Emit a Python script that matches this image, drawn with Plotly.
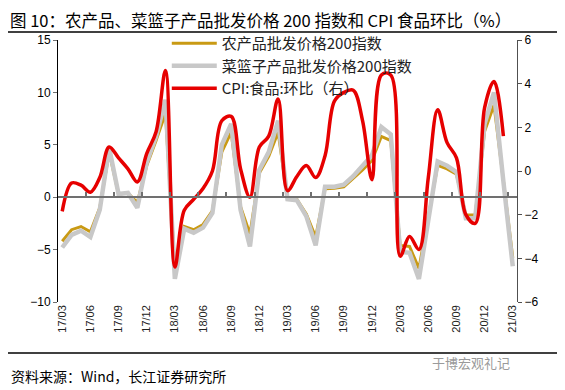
import plotly.graph_objects as go
import pandas as pd

# Monthly categories 2017/03 .. 2021/03
months = [d.strftime("%y/%m") for d in pd.date_range("2017-03-01", "2021-03-01", freq="MS")]
tick_labels = months[::3]
tick_marks = [i + 2.5 for i in range(0, 48, 3)]

# 农产品批发价格200指数 (left axis)
agri = [-4.2, -3.1, -2.8, -3.3, -1.0, 4.3, 0.3, 0.4, -0.5, 3.0, 5.4, 8.0,
        -6.8, -2.8, -3.1, -2.6, -1.3, 4.3, 6.2, -0.9, -3.5, 2.3, 3.9, 6.2,
        -0.1, -0.2, -1.6, -3.8, 0.8, 0.85, 1.0, 1.8, 2.6, 3.5, 5.8, 5.4,
        -4.6, -4.7, -6.8, -1.9, 3.05, 2.7, 2.2, -1.7, -1.7, 6.3, 8.8, 1.6, -5.8]

# 菜篮子产品批发价格200指数 (left axis)
basket = [-4.8, -3.6, -3.2, -3.8, -1.2, 4.7, 0.3, 0.4, -1.0, 3.3, 5.8, 9.3,
          -7.8, -3.0, -3.4, -2.9, -1.5, 5.0, 7.0, -1.2, -4.7, 2.6, 4.3, 7.3,
          -0.2, -0.3, -1.8, -4.6, 1.0, 1.0, 1.2, 2.0, 3.0, 4.0, 6.7, 6.0,
          -5.2, -5.3, -7.8, -2.2, 3.4, 3.0, 2.4, -2.0, -2.0, 7.0, 10.0, 1.5, -6.6]

# CPI:食品:环比 (right axis), 2017/03 .. 2021/02
cpi_food = [-1.85, -0.55, -0.65, -0.97, -0.3, 1.1, 0.6, 0.1, -0.5, 0.8, 1.8, 4.6,
            -4.4, -1.8, -1.3, -0.8, 0.0, 2.3, 2.5, 0.1, -1.2, 1.1, 1.6, 3.3,
            -0.9, -0.25, 0.25, -0.3, 0.7, 3.2, 3.6, 3.7, 2.3, -0.4, 4.4, 4.4,
            -3.9, -3.0, -3.6, -0.3, 2.8, 1.3, 0.6, -2.0, -2.4, 2.9, 4.1, 1.6]

names = ["农产品批发价格200指数", "菜篮子产品批发价格200指数", "CPI:食品:环比（右）"]
colors = ["#C99A14", "#C8C8C8", "#E60000"]

FONT = "Liberation Sans, Arial, Noto Sans CJK SC, sans-serif"
CJK = "Noto Sans CJK SC, Liberation Sans, sans-serif"

fig = go.Figure()
fig.add_trace(go.Scatter(x=months, y=agri, name=names[0], mode="lines",
                         line=dict(color=colors[0], width=3)))
fig.add_trace(go.Scatter(x=months, y=basket, name=names[1], mode="lines",
                         line=dict(color=colors[1], width=4.5)))
fig.add_trace(go.Scatter(x=months[:len(cpi_food)], y=cpi_food, name=names[2], mode="lines",
                         yaxis="y2", line=dict(color=colors[2], width=3.5, shape="spline", smoothing=1.0)))
# carrier for the zero-line axis with tick marks
fig.add_trace(go.Scatter(x=months, y=agri, xaxis="x2", mode="lines", showlegend=False,
                         hoverinfo="skip", line=dict(width=0), opacity=0))

xr = [-0.45, 48.45]
fig.update_layout(
    width=557, height=382,
    margin=dict(l=50, r=48, t=32, b=88),
    paper_bgcolor="white", plot_bgcolor="white",
    font=dict(family=FONT, color="#000000", size=12),
    showlegend=True,
    legend=dict(x=0.237, y=1.05, xanchor="left", yanchor="top", itemwidth=45,
                bgcolor="rgba(0,0,0,0)", font=dict(family=CJK, size=15, color="#222222"),
                tracegroupgap=0),
    xaxis=dict(type="category", range=xr, tickmode="array", tickvals=tick_labels,
               ticktext=tick_labels, tickangle=-90, ticks="", showline=False,
               showgrid=False, zeroline=False, tickfont=dict(size=11, color="#222222")),
    xaxis2=dict(type="category", overlaying="x", anchor="free", position=0.4, range=xr,
                tickmode="array", tickvals=tick_marks, ticks="inside", ticklen=4,
                tickcolor="#707070", tickwidth=1.5, showticklabels=False,
                showline=True, linecolor="#707070", linewidth=1.5, showgrid=False,
                zeroline=False),
    yaxis=dict(range=[-10, 15], dtick=5, showgrid=False, zeroline=False,
               showline=True, linecolor="#000000", linewidth=1, ticks="outside",
               ticklen=4, tickcolor="#707070", tickfont=dict(size=12)),
    yaxis2=dict(range=[-6, 6], dtick=2, overlaying="y", side="right", showgrid=False,
                zeroline=False, showline=True, linecolor="#505050", linewidth=1,
                ticks="outside", ticklen=4, tickcolor="#505050", tickfont=dict(size=12)),
    shapes=[
        dict(type="line", xref="paper", yref="paper", x0=-0.111, x1=1.098,
             y0=1.0305, y1=1.0305, line=dict(color="#000000", width=1.5)),
        dict(type="line", xref="paper", yref="paper", x0=-0.111, x1=1.098,
             y0=-0.1947, y1=-0.1947, line=dict(color="#000000", width=1.5)),
    ],
    annotations=[
        dict(text="图 10：农产品、菜篮子产品批发价格 200 指数和 CPI 食品环比（%）",
             xref="paper", yref="paper", x=-0.1085, y=1.0763,
             xanchor="left", yanchor="middle", showarrow=False,
             font=dict(family=CJK, size=16.5, color="#000000")),
        dict(text="资料来源：Wind，长江证券研究所", xref="paper", yref="paper",
             x=-0.107, y=-0.282, xanchor="left", yanchor="middle", showarrow=False,
             font=dict(family=CJK, size=14, color="#000000")),
        dict(text="于博宏观礼记", xref="paper", yref="paper",
             x=0.81, y=-0.232, xanchor="left", yanchor="middle", showarrow=False,
             font=dict(family=CJK, size=13, color="#9a9a9a")),
    ],
)

fig.write_html("out.html")
